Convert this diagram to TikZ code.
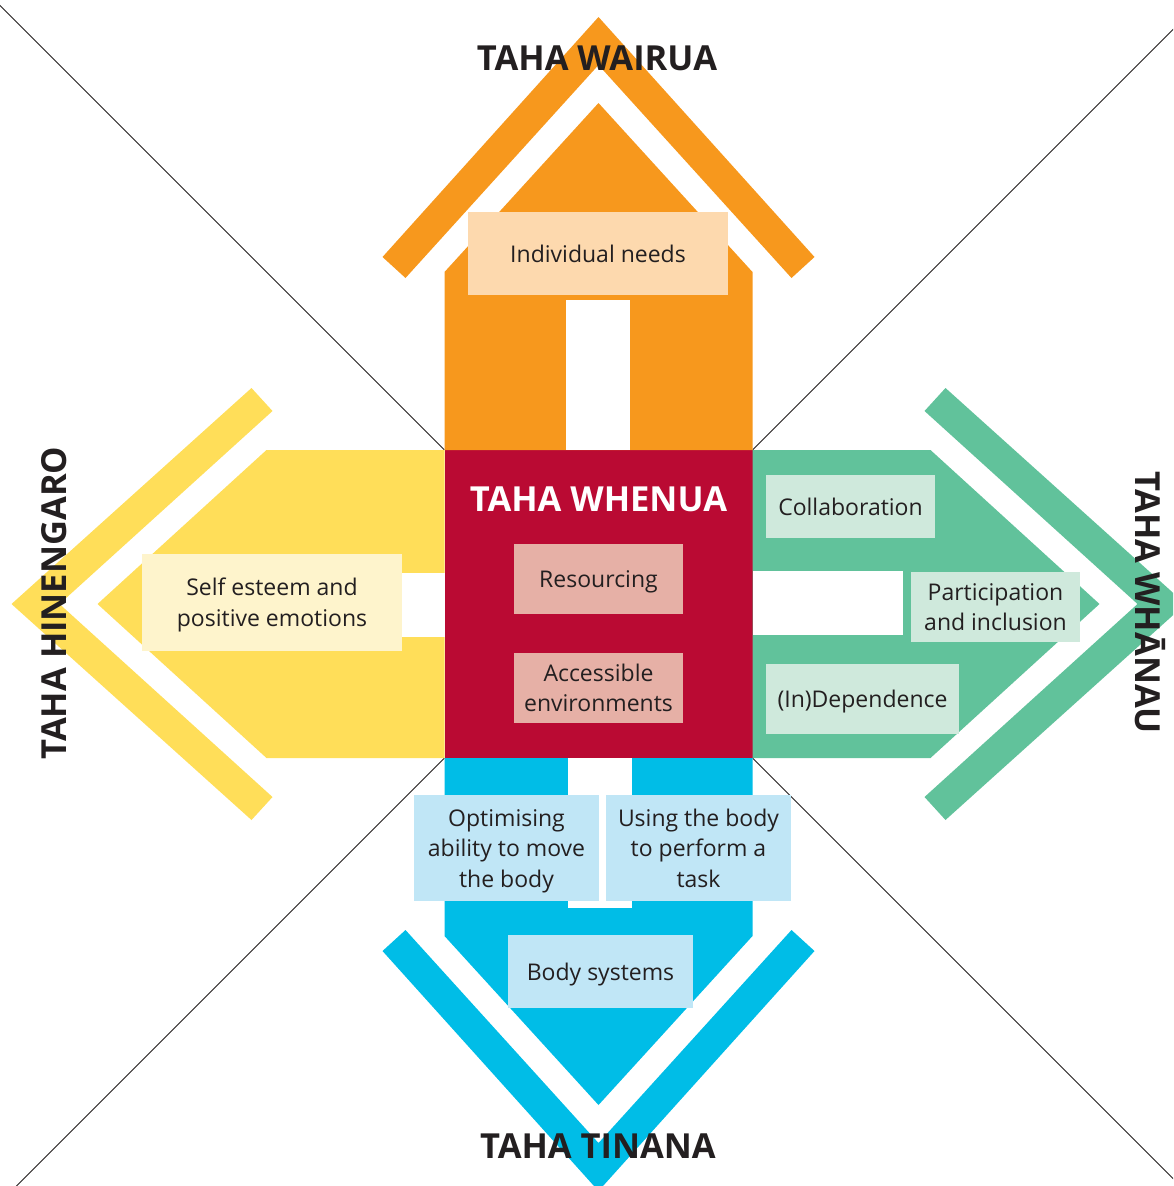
\documentclass[tikz,border=0pt]{standalone}
\usepackage{fontspec}
\setmainfont{Open Sans}
\definecolor{ink}{HTML}{231F20}
\definecolor{wairua}{HTML}{F7981D}
\definecolor{hinengaro}{HTML}{FFDE59}
\definecolor{whanau}{HTML}{61C29B}
\definecolor{tinana}{HTML}{00BDE7}
\definecolor{whenua}{HTML}{BA0A33}
\definecolor{peach}{HTML}{FDD9AE}
\definecolor{cream}{HTML}{FEF4CC}
\definecolor{mint}{HTML}{CFE9DC}
\definecolor{rose}{HTML}{E6B0A6}
\definecolor{sky}{HTML}{C0E6F6}
% strut giving every label line the same height (23pt) and depth (6pt),
% so that the capitals sit in the middle of the box
\newcommand\lstrut{\rule[-6pt]{0pt}{29pt}}
% One arm of the model: a house-shaped body with a white slot and a chevron,
% drawn pointing up from the top edge of the central square.
\newcommand\wingshape[1]{%
  \fill[#1] (-154,-154) -- (-154,-332) -- (0,-501) -- (154,-332) -- (154,-154) -- cycle;
  \fill[white] (-33,-154) rectangle (31,-304);
  \fill[#1] (0,-587) -- (216,-347) -- (193,-326) -- (0,-539) -- (-193,-326) -- (-216,-347) -- cycle;
}
\begin{document}
\begin{tikzpicture}[x=1pt,y=-1pt,
  every node/.style={inner sep=0pt},
  label/.style={minimum width=#1, align=center, text=ink,
    font=\fontsize{23}{30.5}\selectfont},
  title/.style={text=ink, font=\fontsize{34.5}{40}\selectfont\bfseries}]
\useasboundingbox (0,0) rectangle (1173,1186);
\clip (0,0) rectangle (1173,1186);

% central square
\node[fill=whenua, minimum width=308pt, minimum height=308pt] (sq) at (598.5,604) {};

% diagonals from the square's corners
\draw[ink, line width=0.9pt] (sq.north west) -- ++(-700,-700);
\draw[ink, line width=0.9pt] (sq.north east) -- ++(700,-700);
\draw[ink, line width=0.9pt] (sq.south west) -- ++(-700,700);
\draw[ink, line width=0.9pt] (sq.south east) -- ++(700,700);

% the four arms
\begin{scope}[shift={(598.5,604)}]
  \wingshape{wairua}
\end{scope}
\begin{scope}[shift={(598.5,604)}, rotate=90]
  \wingshape{hinengaro}
\end{scope}
\begin{scope}[shift={(598.5,604)}, rotate=180]
  \wingshape{tinana}
\end{scope}
\begin{scope}[shift={(598.5,604)}, rotate=-90]
  \wingshape{whanau}
\end{scope}

% text boxes
\node[label=260pt, fill=peach, minimum height=83pt] (need) at (598,253.5) {\lstrut Individual needs};
\node[label=260pt, fill=cream, minimum height=97pt] (selfe) at (272,602.5) {\lstrut Self esteem and\\positive emotions\lstrut};
\node[label=169pt, fill=rose, minimum height=70pt] (res) at (598.5,579) {\lstrut Resourcing};
\node[label=169pt, fill=rose, minimum height=70pt] (acc) at (598.5,688) {\lstrut Accessible\\environments\lstrut};
\node[label=169pt, fill=mint, minimum height=63pt] (col) at (850.5,506.5) {\lstrut Collaboration};
\node[label=169pt, fill=mint, minimum height=70pt] (par) at (995.5,607) {\lstrut Participation\\and inclusion\lstrut};
\node[label=193pt, fill=mint, minimum height=70pt] (ind) at (862.5,699) {\lstrut (In)Dependence};
\node[label=185pt, fill=sky, minimum height=106pt] (opt) at (506.5,848) {\lstrut Optimising\\ability to move\\the body\lstrut};
\node[label=185pt, fill=sky, minimum height=106pt] (use) at (698.5,848) {\lstrut Using the body\\to perform a\\task\lstrut};
\node[label=185pt, fill=sky, minimum height=73pt] (bod) at (600.5,971.5) {\lstrut Body systems};

% titles
\node[title, anchor=base] (tw) at (597,70) {TAHA WAIRUA};
\node[title, anchor=base] (tt) at (598,1158) {TAHA TINANA};
\node[title, anchor=base, text=white] (tf) at (598.5,511) {TAHA WHENUA};
\node[title, anchor=base, rotate=90] (th) at (66,603) {TAHA HINENGARO};
\node[title, anchor=base, rotate=-90] (ta) at (1135,603) {TAHA WHĀNAU};
\end{tikzpicture}
\end{document}
